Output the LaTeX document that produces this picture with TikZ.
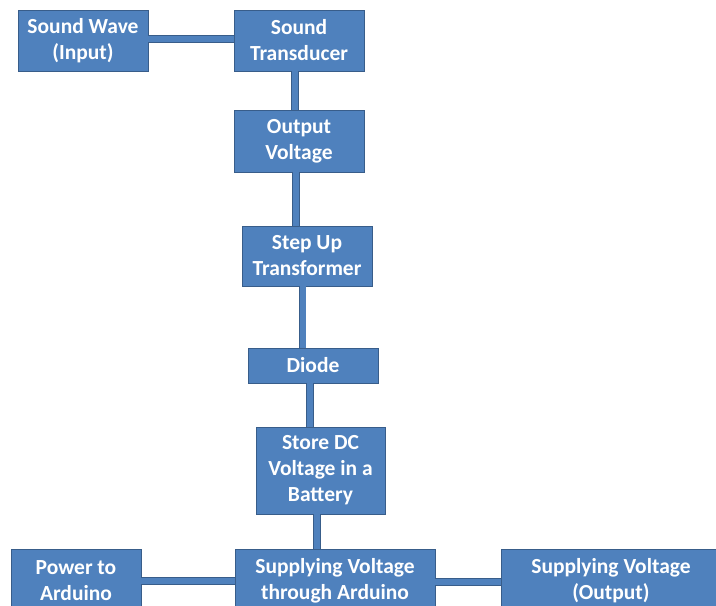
\documentclass[tikz,border=0pt]{standalone}
\usepackage{fontspec}
\setmainfont{Carlito}
\definecolor{boxblue}{HTML}{4F81BD}
\definecolor{edgeblue}{HTML}{385D8A}
\tikzset{
  blk/.style={draw=edgeblue, line width=0.8pt, fill=boxblue, text=white, align=center, inner sep=0pt,
    font=\fontsize{21.5}{26}\selectfont\bfseries},
  conn/.style={draw=edgeblue, line width=0.9pt, double=boxblue, double distance=6pt}
}
\begin{document}
\begin{tikzpicture}[x=1pt,y=-1pt]
\clip (0,0) rectangle (716,606);
\fill[white] (0,0) rectangle (716,606);
\node[blk, minimum width=130, minimum height=61] (sw) at (83,40.5) {Sound Wave\\(Input)};
\node[blk, minimum width=130, minimum height=61] (st) at (299,40.5) {Sound\\Transducer};
\node[blk, minimum width=130, minimum height=62] (ov) at (299,141) {Output\\Voltage};
\node[blk, minimum width=130, minimum height=60] (su) at (307,256) {Step Up\\Transformer};
\node[blk, minimum width=130, minimum height=35] (di) at (313,365.5) {Diode};
\node[blk, minimum width=129, minimum height=87] (ba) at (320.5,470.5) {Store DC\\Voltage in a\\Battery};
\node[blk, minimum width=130, minimum height=64] (pa) at (76,581) {Power to\\Arduino};
\node[blk, minimum width=200, minimum height=64] (sa) at (335,581) {Supplying Voltage\\through Arduino};
\node[blk, minimum width=220, minimum height=64] (so) at (611,581) {Supplying Voltage\\(Output)};
\draw[conn] ([yshift=1.5]sw.east) -- ([yshift=1.5]sw.east -| st.west);
\draw[conn] ([xshift=-4]st.south) -- ([xshift=-4]st.south |- ov.north);
\draw[conn] ([xshift=-3]ov.south) -- ([xshift=-3]ov.south |- su.north);
\draw[conn] ([xshift=-4.5]su.south) -- ([xshift=-4.5]su.south |- di.north);
\draw[conn] ([xshift=-3]di.south) -- ([xshift=-3]di.south |- ba.north);
\draw[conn] ([xshift=-3.5]ba.south) -- ([xshift=-3.5]ba.south |- sa.north);
\draw[conn] (pa.east) -- (pa.east -| sa.west);
\draw[conn] ([yshift=-1]sa.east) -- ([yshift=-1]sa.east -| so.west);
\end{tikzpicture}
\end{document}
